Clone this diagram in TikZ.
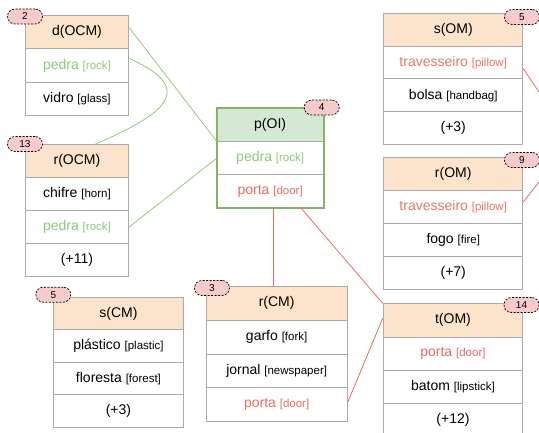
\documentclass[tikz,border=0pt]{standalone}
\usepackage{fontspec}
\setmainfont{Liberation Sans}
\definecolor{peach}{HTML}{FCE4CC}
\definecolor{oihead}{HTML}{D5E8D4}
\definecolor{oiborder}{HTML}{82B366}
\definecolor{badgepink}{HTML}{F5CBCB}
\definecolor{cellgray}{HTML}{AAAAAA}
\definecolor{textgreen}{HTML}{8DC878}
\definecolor{textred}{HTML}{EA6B66}
\definecolor{textsalmon}{HTML}{E57A63}
\definecolor{linegreen}{HTML}{92CB7C}
\definecolor{linered}{HTML}{EA6B66}
\newcommand{\trn}[1]{{\fontsize{11.5}{13}\selectfont[#1]}}
\tikzset{
  cell/.style={draw=cellgray, line width=0.9pt, fill=white, anchor=north west,
    inner sep=0pt, text=black, font=\fontsize{14}{16}\selectfont},
  head/.style={cell, fill=peach},
  badge/.style={draw=black, dashed, dash pattern=on 2pt off 1.5pt, line width=0.7pt,
    fill=badgepink, rounded corners=7.5pt, minimum width=35pt, minimum height=15pt,
    inner sep=0pt, font=\fontsize{10}{12}\selectfont},
  gline/.style={draw=linegreen, line width=0.8pt},
  rline/.style={draw=linered, line width=0.8pt},
}
\begin{document}
\begin{tikzpicture}[x=1pt,y=-1pt]
\useasboundingbox[fill=white] (0,0) rectangle (539,433);

% d(OCM)
\begin{scope}[minimum width=103.6pt, minimum height=33.3pt]
\node[head] (dOCM) at (24.7,15) {d(OCM)};
\node[cell, text=textgreen] (dOCM-1) at (24.7,48.3) {pedra \trn{rock}};
\node[cell] (dOCM-2) at (24.7,81.6) {vidro \trn{glass}};
\end{scope}

% r(OCM)
\begin{scope}[minimum width=103.6pt, minimum height=33pt]
\node[head] (rOCM) at (24.7,144) {r(OCM)};
\node[cell] (rOCM-1) at (24.7,177) {chifre \trn{horn}};
\node[cell, text=textgreen] (rOCM-2) at (24.7,210) {pedra \trn{rock}};
\node[cell] (rOCM-3) at (24.7,243) {(+11)};
\end{scope}

% p(OI)
\begin{scope}[minimum width=106pt, minimum height=33pt]
\node[head, fill=oihead] (pOI) at (216.7,108.3) {p(OI)};
\node[cell, text=textgreen] (pOI-1) at (216.7,141.3) {pedra \trn{rock}};
\node[cell, text=textred] (pOI-2) at (216.7,174.3) {porta \trn{door}};
\end{scope}
\draw[oiborder, line width=2pt] (pOI.north west) rectangle (pOI-2.south east);

% s(CM)
\begin{scope}[minimum width=129.4pt, minimum height=32.5pt]
\node[head] (sCM) at (53.3,296.7) {s(CM)};
\node[cell] (sCM-1) at (53.3,329.2) {plástico \trn{plastic}};
\node[cell] (sCM-2) at (53.3,361.7) {floresta \trn{forest}};
\node[cell] (sCM-3) at (53.3,394.2) {(+3)};
\end{scope}

% r(CM)
\begin{scope}[minimum width=141pt, minimum height=33.75pt]
\node[head] (rCM) at (205.7,286) {r(CM)};
\node[cell] (rCM-1) at (205.7,319.75) {garfo \trn{fork}};
\node[cell] (rCM-2) at (205.7,353.5) {jornal \trn{newspaper}};
\node[cell, text=textred] (rCM-3) at (205.7,387.25) {porta \trn{door}};
\end{scope}

% s(OM)
\begin{scope}[minimum width=139pt, minimum height=32.9pt]
\node[head] (sOM) at (383.3,12.7) {s(OM)};
\node[cell, text=textsalmon] (sOM-1) at (383.3,45.6) {travesseiro \trn{pillow}};
\node[cell] (sOM-2) at (383.3,78.5) {bolsa \trn{handbag}};
\node[cell] (sOM-3) at (383.3,111.4) {(+3)};
\end{scope}

% r(OM)
\begin{scope}[minimum width=139pt, minimum height=32.9pt]
\node[head] (rOM) at (383.3,157.3) {r(OM)};
\node[cell, text=textsalmon] (rOM-1) at (383.3,190.2) {travesseiro \trn{pillow}};
\node[cell] (rOM-2) at (383.3,223.1) {fogo \trn{fire}};
\node[cell] (rOM-3) at (383.3,256) {(+7)};
\end{scope}

% t(OM)
\begin{scope}[minimum width=139.6pt, minimum height=33.2pt]
\node[head] (tOM) at (382.7,303.3) {t(OM)};
\node[cell, text=textred] (tOM-1) at (382.7,336.5) {porta \trn{door}};
\node[cell] (tOM-2) at (382.7,369.7) {batom \trn{lipstick}};
\node[cell] (tOM-3) at (382.7,402.9) {(+12)};
\end{scope}

% green links (pedra)
\draw[gline] ([yshift=4.4pt]dOCM.east) -- (pOI-1.north west);
\draw[gline] ([yshift=7pt]dOCM-1.east) .. controls +(62,28) and +(80,-34) .. ([xshift=18.5pt]rOCM.north);
\draw[gline] (rOCM-2.east) -- (pOI-1.west);

% red links (porta, travesseiro)
\coordinate (pdrop) at ([xshift=3.5pt]pOI-2.south);
\draw[rline, line width=1.1pt] (pdrop) -- (pdrop |- rCM.north);
\draw[rline] ([xshift=31pt]pOI-2.south) -- (tOM.north west);
\draw[rline] ([yshift=2pt]rCM-3.east) -- ([yshift=2pt]tOM.west);
\coordinate (outA) at (548,105.3);
\coordinate (outB) at (548,170.4);
\draw[rline] ([yshift=-6pt]sOM-1.east) -- (outA);
\draw[rline] ([yshift=5pt]rOM-1.east) -- (outB);

% count badges
\node[badge] (b2) at (25,16.5) {2};
\node[badge] (b13) at (25,144) {13};
\node[badge] (b4) at (321.7,107.5) {4};
\node[badge] (b5a) at (522,17) {5};
\node[badge] (b9) at (522,160) {9};
\node[badge] (b14) at (521.5,305) {14};
\node[badge] (b3) at (212,288) {3};
\node[badge] (b5b) at (53.3,294.7) {5};
\end{tikzpicture}
\end{document}
